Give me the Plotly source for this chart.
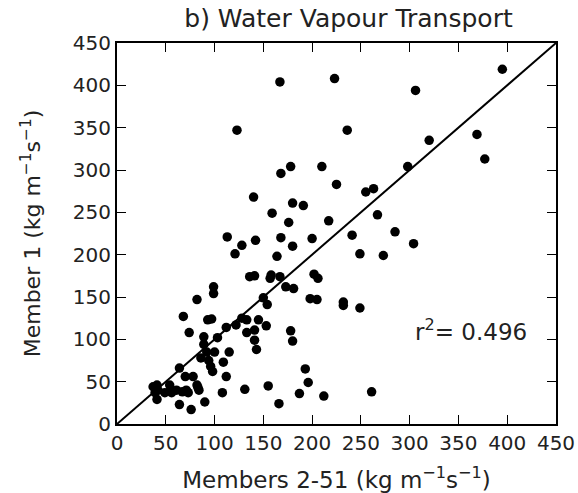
import plotly.graph_objects as go

members_2_51 = [167, 223, 123, 395, 306, 236, 320, 369, 377, 298, 168, 178, 210, 225, 140, 255, 263,
                180, 191, 159, 176, 217, 267, 113, 142, 168, 200, 241, 285, 180, 128, 121, 164, 249,
                273, 304,
                136, 141, 158, 157, 167, 173, 181, 202, 206, 198, 205, 232, 232, 249, 99, 99, 82, 150,
                154, 68, 74, 93, 97, 89, 89, 103, 112, 122, 128, 133, 133, 141, 141, 143, 145, 153,
                178, 180,
                86, 94, 96, 92, 100, 98, 109, 115, 112, 108, 131, 155, 166, 187, 193, 196, 212, 261,
                64, 70, 78, 71, 82, 84, 90, 64, 76, 37, 41, 39, 41, 49, 54, 56, 61, 73, 55, 67, 83, 42]
member_1 = [404, 408, 347, 419, 394, 347, 335, 342, 313, 304, 296, 304, 304, 283, 268, 274, 278,
            261, 258, 249, 238, 240, 247, 221, 217, 220, 219, 223, 227, 210, 211, 201, 198, 201,
            199, 213,
            174, 175, 176, 172, 174, 162, 160, 177, 172, 148, 147, 144, 140, 137, 162, 154, 147, 149,
            141, 127, 108, 123, 124, 103, 94, 102, 114, 117, 125, 123, 108, 111, 99, 88, 123, 116,
            110, 98,
            78, 75, 68, 85, 85, 62, 73, 85, 56, 37, 41, 45, 24, 36, 65, 49, 33, 38,
            66, 56, 56, 40, 46, 40, 26, 23, 17, 44, 46, 37, 29, 37, 46, 37, 40, 37, 40, 38, 43, 40]

one_to_one = [0, 450]
r2_label = "r<sup>2</sup>= 0.496"
ticks = list(range(0, 451, 50))

font = "DejaVu Sans"
txt = "#222"
fig = go.Figure()
fig.add_trace(go.Scatter(x=one_to_one, y=one_to_one, mode="lines",
                         line=dict(color="black", width=2), hoverinfo="skip"))
fig.add_trace(go.Scatter(x=members_2_51, y=member_1, mode="markers",
                         marker=dict(color="black", size=9.5, line=dict(width=0))))

fig.add_annotation(x=363, y=111, text=r2_label, showarrow=False,
                   font=dict(family=font, size=23, color=txt))

axis_common = dict(range=[0, 450], tickvals=ticks, ticks="inside", ticklen=9, tickwidth=1.2,
                   tickcolor="black", showline=True, linewidth=2, linecolor="black",
                   mirror="ticks", showgrid=False, zeroline=False, automargin=False,
                   tickfont=dict(family=font, size=20, color=txt))

fig.update_layout(
    width=578, height=493,
    margin=dict(l=117, r=22, t=43, b=69, autoexpand=False),
    paper_bgcolor="white", plot_bgcolor="white",
    showlegend=False,
    title=dict(text="b) Water Vapour Transport", x=0.603, xanchor="center", y=0.963, yanchor="middle",
               font=dict(family=font, size=25, color=txt)),
    xaxis=dict(axis_common, title=dict(text="Members 2-51 (kg m<sup>−1</sup>s<sup>−1</sup>)",
                                       font=dict(family=font, size=23, color=txt), standoff=22)),
    yaxis=dict(axis_common, title=dict(text="Member 1 (kg m<sup>−1</sup>s<sup>−1</sup>)",
                                       font=dict(family=font, size=22, color=txt), standoff=26)),
)
fig.write_html("out.html")
